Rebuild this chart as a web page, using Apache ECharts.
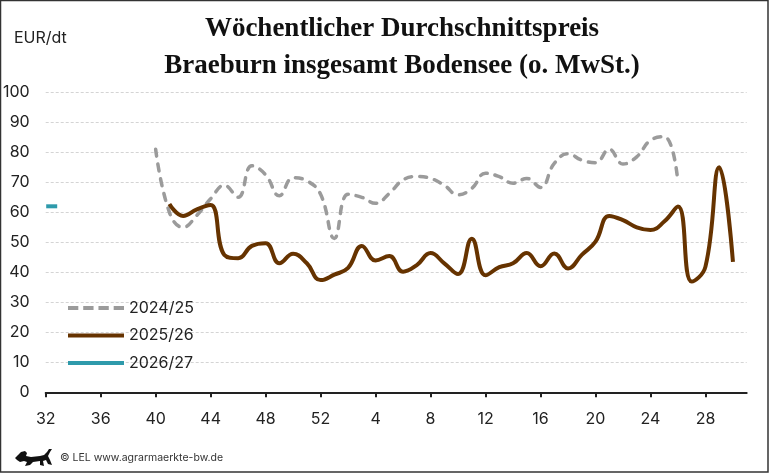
<!DOCTYPE html>
<html>
  <head>
    <meta charset="utf-8" />
    <title>Braeburn Bodensee</title>
    <style>
      html, body { margin: 0; padding: 0; background: #fff; }
    </style>
  </head>
  <body>
    <script src="https://cdn.jsdelivr.net/npm/echarts@6/dist/echarts.min.js"></script>

    <div id="chart" style="width: 769px; height: 473px"></div>

    <script>
      // Kalenderwochen 32 .. 52, 1 .. 31
      const weeks = [
        32, 33, 34, 35, 36, 37, 38, 39, 40, 41, 42, 43, 44, 45, 46, 47, 48, 49, 50, 51, 52,
        1, 2, 3, 4, 5, 6, 7, 8, 9, 10, 11, 12, 13, 14, 15, 16, 17, 18, 19, 20,
        21, 22, 23, 24, 25, 26, 27, 28, 29, 30, 31,
      ].map(String);

      // 2024/25: KW 40 .. KW 26
      const s2024 = [
        null, null, null, null, null, null, null, null,
        81, 60, 55, 59, 64.5, 69, 65, 75.5, 72.5, 65.5, 71.5, 70.5, 66,
        51.3, 66, 65, 63, 66.3, 70.8, 71.9, 71.3, 69, 65.8, 68, 73, 71.9, 69.7, 71.3, 68.3,
        76.3, 79.5, 77.4, 76.5, 81, 76.1, 78.5, 84, 85.2, 70,
        null, null, null, null, null,
      ];

      // 2025/26: KW 41 .. KW 30
      const s2025 = [
        null, null, null, null, null, null, null, null, null,
        62.8, 58.8, 61, 62.4, 45.8, 44.7, 48.8, 49.7, 43, 46.2, 43, 37.4,
        39.2, 41.5, 48.8, 43.9, 45.4, 40.2, 42.4, 46.4, 43, 39.4, 51.2, 39, 41.7, 43, 46.4, 42,
        46.3, 41.3, 45.8, 50.2, 58.8, 57.4, 55, 54.1, 56.9, 61.9, 36.9, 41.9, 75, 43.5,
        null,
      ];

      // 2026/27: nur KW 32
      const s2026 = [62];

      const yTicks = { min: 0, max: 100, step: 10 };

      const seasons = ['2024/25', '2025/26', '2026/27'];
      const colors = ['#9b9b9b', '#663300', '#2e9aab'];

      const font = 'Inter, "Noto Sans", sans-serif';
      const dashIcon =
        'path://M0,0h10.5v4h-10.5z M15.5,0h10.5v4h-10.5z M31,0h10.5v4h-10.5z M46.5,0h10.5v4h-10.5z';

      // Landeswappen, grob vereinfacht
      const lion = [
        [15, 458], [18, 455], [21, 452], [25, 451], [27, 453], [26, 456], [31, 457],
        [40, 456], [44, 455], [47, 452], [49, 449], [52, 449], [50, 452], [48, 456],
        [50, 460], [52, 465], [48, 464], [46, 460], [43, 461], [44, 466], [40, 465],
        [40, 461], [33, 462], [30, 465], [25, 466], [27, 462], [24, 461], [20, 462], [17, 460],
      ];

      let chart = echarts.init(document.getElementById('chart'), null, {
        width: 769,
        height: 473,
      });

      chart.setOption({
        animation: false,
        backgroundColor: '#fff',
        title: {
          text: 'Wöchentlicher Durchschnittspreis\nBraeburn insgesamt Bodensee (o. MwSt.)',
          left: 397,
          textAlign: 'center',
          top: 6,
          textStyle: {
            fontFamily: '"Liberation Serif", "DejaVu Serif", serif',
            fontWeight: 'bold',
            fontSize: 27,
            lineHeight: 37,
            color: '#111',
          },
        },
        graphic: [
          {
            type: 'rect',
            shape: { x: 0.5, y: 0.5, width: 767.5, height: 471.5 },
            style: { fill: 'none', stroke: '#333', lineWidth: 1.5 },
            silent: true,
          },
          {
            type: 'text',
            x: 14,
            y: 30,
            style: { text: 'EUR/dt', fontFamily: font, fontSize: 16, fill: '#222' },
          },
          {
            type: 'polygon',
            shape: { points: lion },
            style: { fill: '#111' },
            silent: true,
          },
          {
            type: 'text',
            x: 60,
            y: 452,
            style: {
              text: '© LEL www.agrarmaerkte-bw.de',
              fontFamily: font,
              fontSize: 10.5,
              fill: '#333',
            },
          },
        ],
        legend: {
          orient: 'vertical',
          left: 63,
          top: 294,
          itemWidth: 56,
          itemHeight: 4,
          itemGap: 9.5,
          selectedMode: false,
          itemStyle: { borderWidth: 0 },
          textStyle: { fontFamily: font, fontSize: 16, color: '#222', lineHeight: 18 },
          data: [
            { name: seasons[0], icon: dashIcon },
            { name: seasons[1], icon: 'rect' },
            { name: seasons[2], icon: 'rect' },
          ],
        },
        grid: {
          left: 45.5,
          right: 22.3,
          top: 92.3,
          bottom: 80.7,
          containLabel: false,
        },
        xAxis: {
          type: 'category',
          data: weeks,
          boundaryGap: false,
          axisLine: { lineStyle: { color: '#222', width: 2 } },
          axisTick: {
            interval: 3,
            length: 5,
            lineStyle: { color: '#222', width: 2 },
          },
          axisLabel: {
            interval: 3,
            margin: 19,
            fontFamily: font,
            fontSize: 16,
            color: '#222',
          },
          splitLine: { show: false },
        },
        yAxis: {
          type: 'value',
          min: yTicks.min,
          max: yTicks.max,
          interval: yTicks.step,
          axisLine: { show: false },
          axisTick: { show: false },
          axisLabel: {
            margin: 16,
            fontFamily: font,
            fontSize: 16,
            color: '#222',
          },
          splitLine: {
            lineStyle: { color: '#d4d4d4', width: 1, type: [3, 2] },
          },
        },
        series: [
          {
            name: seasons[0],
            type: 'line',
            data: s2024,
            color: colors[0],
            symbol: 'none',
            smooth: 0.45,
            lineStyle: { width: 3.5, type: [7, 8], cap: 'round' },
            z: 2,
          },
          {
            name: seasons[1],
            type: 'line',
            data: s2025,
            color: colors[1],
            symbol: 'none',
            smooth: 0.45,
            lineStyle: { width: 4 },
            z: 3,
          },
          {
            name: seasons[2],
            type: 'line',
            data: s2026,
            color: colors[2],
            symbol: 'rect',
            symbolSize: [11, 4],
            symbolOffset: [6, 0],
            showSymbol: true,
            itemStyle: { borderWidth: 0 },
            lineStyle: { width: 4 },
            z: 4,
          },
        ],
      });
    </script>
  </body>
</html>
